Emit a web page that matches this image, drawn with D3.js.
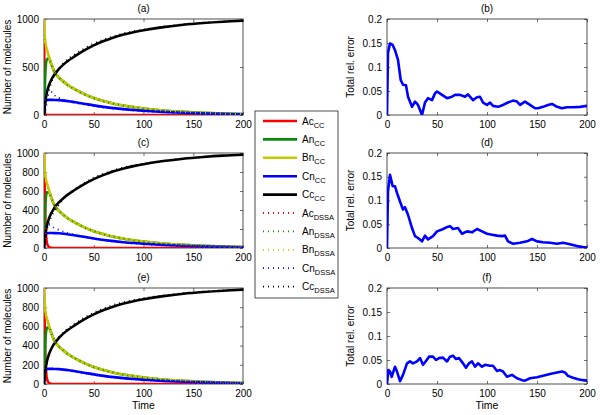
<!DOCTYPE html>
<html><head><meta charset="utf-8">
<script src="https://cdn.jsdelivr.net/npm/d3@7"></script>
<style>body{margin:0;background:#fff}svg{display:block}text{font-family:"Liberation Sans",Arial,sans-serif;fill:#000}</style>
</head><body><svg id="c" width="600" height="415"></svg>
<script>
// ---------- data ----------
const t = [0,0.5,1,2,3,5,7,10,15,20,25,30,40,50,60,70,80,90,100,120,140,160,180,200];
const acCC_a = [1000,150,20,0,0,0,0,0,0,0,0,0,0,0,0,0,0,0,0,0,0,0,0,0];
const acCC_ce = [1000,720,420,150,50,10,2,0,0,0,0,0,0,0,0,0,0,0,0,0,0,0,0,0];
const anCC = [0,120,330,540,580,590,540,460,390,345,305,275,220,177,145,118,98,82,68,47,33,23,16,11];
const bnCC = [1000,880,800,720,680,610,545,460,390,345,305,275,220,177,145,118,98,82,68,47,33,23,16,11];
const cnCC = [0,70,120,150,155,158,158,157,155,150,143,135,118,100,85,72,61,52,45,33,24,17,12,8];
const ccCC = [0,60,110,185,240,310,360,415,480,530,570,605,670,725,770,808,838,862,882,915,940,958,972,982];

const acDSSA_a = [1000,200,30,0,0,0,0,0,0,0,0,0,0,0,0,0,0,0,0,0,0,0,0,0];
const anDSSA_a = [0,110,320,530,575,585,535,455,385,340,300,270,218,175,143,117,97,81,67,46,32,22,15,10];
const bnDSSA_a = [1000,880,800,720,670,600,545,462,388,340,300,272,218,175,143,117,97,81,67,46,32,22,15,10];
const cnDSSA_a = [0,40,100,200,255,265,245,210,178,158,143,130,110,92,78,65,55,46,38,27,19,13,9,6];
const ccDSSA_a = [0,10,30,80,150,250,330,400,480,545,590,625,690,745,785,820,850,872,890,920,945,962,975,985];

const acDSSA_c = [1000,700,400,140,45,8,1,0,0,0,0,0,0,0,0,0,0,0,0,0,0,0,0,0];
const anDSSA_c = [0,120,330,535,578,585,535,458,388,342,302,272,218,175,143,117,97,81,67,46,32,22,15,10];
const bnDSSA_c = [1000,880,800,720,675,605,545,462,388,340,300,272,218,175,143,117,97,81,67,46,32,22,15,10];
const cnDSSA_c = [0,80,160,220,240,242,232,215,190,170,155,140,118,98,82,68,57,48,40,28,20,14,10,6];
const ccDSSA_c = [0,20,60,130,190,265,320,385,455,520,570,610,680,740,782,818,848,870,888,918,943,960,974,984];

const acDSSA_e = [1000,710,410,145,48,9,1,0,0,0,0,0,0,0,0,0,0,0,0,0,0,0,0,0];
const anDSSA_e = [0,125,335,540,582,588,538,460,390,344,304,274,219,176,144,117,97,81,67,46,32,22,15,10];
const bnDSSA_e = [1000,880,800,720,678,608,545,461,389,343,303,274,219,176,144,117,97,81,67,46,32,22,15,10];
const cnDSSA_e = [0,60,115,148,155,160,160,158,154,148,140,130,112,95,80,67,57,48,41,29,21,15,10,7];
const ccDSSA_e = [0,55,105,180,235,305,358,418,488,542,585,620,688,742,787,824,853,876,894,922,946,962,975,985];

const errT_b = [0,1,3,5.7,8,11,13.7,16,19,21,25,28,31,35,38,41,45,48,50,55,60,65,68,73,78,81,86,90,93,96,100,103,106,111,116,121,126,130,133,138,143,148,151,156,161,165,170,175,180,186,193,200];
const err_b = [0,0.13,0.149,0.146,0.135,0.115,0.073,0.063,0.062,0.038,0.017,0.028,0.021,0,0.026,0.035,0.031,0.045,0.049,0.042,0.035,0.038,0.042,0.042,0.038,0.043,0.031,0.037,0.038,0.026,0.021,0.026,0.019,0.017,0.021,0.026,0.030,0.028,0.021,0.028,0.021,0.014,0.014,0.017,0.021,0.023,0.017,0.014,0.016,0.016,0.017,0.019];

const errT_d = [0,1,3,5.7,8,10,13,16,18,21,25,28,31,35,38,41,46,50,55,60,63,66,71,75,80,85,90,95,100,105,110,115,118,121,126,133,140,145,150,156,163,170,176,183,190,196,200];
const err_d = [0,0.12,0.154,0.13,0.13,0.116,0.098,0.081,0.086,0.070,0.042,0.025,0.021,0.014,0.026,0.018,0.025,0.035,0.039,0.044,0.046,0.040,0.042,0.030,0.035,0.033,0.040,0.035,0.030,0.028,0.026,0.025,0.026,0.014,0.009,0.011,0.014,0.019,0.014,0.012,0.011,0.009,0.011,0.008,0.004,0.002,0.001];

const errT_f = [0,1.3,3,4.7,8,10,13,16,20,23,26,30,33,36,39,42,46,49,52,56,60,63,66,69,72,76,79,82,85,88,91,95,98,103,106,110,113,116,120,125,130,135,138,143,150,156,163,170,175,178,181,186,191,196,200];
const err_f = [0,0.029,0.026,0.015,0.036,0.026,0.006,0.019,0.043,0.047,0.043,0.047,0.054,0.040,0.048,0.057,0.057,0.050,0.054,0.055,0.047,0.057,0.059,0.052,0.054,0.043,0.034,0.043,0.047,0.036,0.043,0.036,0.040,0.038,0.038,0.027,0.029,0.026,0.015,0.019,0.012,0.008,0.007,0.012,0.014,0.017,0.021,0.024,0.026,0.024,0.017,0.013,0.010,0.008,0.007];

const xTicks = [0,50,100,150,200];
const yTicksA = [0,500,1000];
const yTicksCE = [0,200,400,600,800,1000];
const yTicksErr = [0,0.05,0.1,0.15,0.2];
const legendNames = [["Ac","CC"],["An","CC"],["Bn","CC"],["Cn","CC"],["Cc","CC"],["Ac","DSSA"],["An","DSSA"],["Bn","DSSA"],["Cn","DSSA"],["Cc","DSSA"]];
const colors = ["#ff0000","#0a8a0a","#c8c800","#0000ff","#000000"];

// ---------- drawing ----------
const svg = d3.select("#c");
let clipId = 0;
function panel(x0,x1,y0,y1,yMax,yTicks,yFmt,title,ylab,showTime){
  const x = d3.scaleLinear().domain([0,200]).range([x0,x1]);
  const y = d3.scaleLinear().domain([0,yMax]).range([y1,y0]);
  const g = svg.append("g");
  const id = "clip"+(clipId++);
  svg.append("clipPath").attr("id",id).append("rect").attr("x",x0).attr("y",y0-1).attr("width",x1-x0).attr("height",y1-y0+1);
  g.append("rect").attr("x",x0).attr("y",y0).attr("width",x1-x0).attr("height",y1-y0).attr("fill","none").attr("stroke","#222").attr("stroke-width",0.8);
  const ax = d3.axisBottom(x).tickValues(xTicks).tickSize(-3).tickPadding(6).tickFormat(d3.format("d"));
  const ay = d3.axisLeft(y).tickValues(yTicks).tickSize(-3).tickPadding(5).tickFormat(yFmt);
  const gx = g.append("g").attr("transform",`translate(0,${y1})`).call(ax);
  const gy = g.append("g").attr("transform",`translate(${x0},0)`).call(ay);
  const gx2 = g.append("g").attr("transform",`translate(0,${y0})`).call(d3.axisTop(x).tickValues(xTicks).tickSize(-3).tickFormat(""));
  const gy2 = g.append("g").attr("transform",`translate(${x1},0)`).call(d3.axisRight(y).tickValues(yTicks).tickSize(-3).tickFormat(""));
  [gx,gy,gx2,gy2].forEach(s=>{s.select(".domain").remove();s.selectAll("line").attr("stroke","#333").attr("stroke-width",0.7);s.selectAll("text").attr("font-size",10).attr("font-family","Liberation Sans, Arial, sans-serif").attr("fill","#000");});
  g.append("text").attr("x",(x0+x1)/2).attr("y",y0-7).attr("text-anchor","middle").attr("font-size",10).text(title);
  g.append("text").attr("transform",`translate(${x0-33},${(y0+y1)/2}) rotate(-90)`).attr("text-anchor","middle").attr("font-size",10).text(ylab);
  if(showTime) g.append("text").attr("x",(x0+x1)/2).attr("y",y1+25).attr("text-anchor","middle").attr("font-size",10.5).text("Time");
  const plot = svg.append("g").attr("clip-path",`url(#${id})`);
  return {x,y,plot};
}
function drawLine(p,xs,ys,color,dotted,curve){
  const line = d3.line().x((d,i)=>p.x(xs[i])).y(d=>p.y(d)).curve(curve||d3.curveMonotoneX);
  p.plot.append("path").datum(ys).attr("d",line).attr("fill","none").attr("stroke",color)
    .attr("stroke-width",dotted?1.8:2.6).attr("stroke-dasharray",dotted?"1,4":null).attr("stroke-linejoin","round");
}
const fmtN = d3.format("d");
const fmtE = d=> d===0?"0":String(d);

const leftSets = [
  {y0:19,y1:115,ticks:yTicksA,title:"(a)",cc:[acCC_a,anCC,bnCC,cnCC,ccCC],ds:[acDSSA_a,anDSSA_a,bnDSSA_a,cnDSSA_a,ccDSSA_a],time:false},
  {y0:153,y1:248,ticks:yTicksCE,title:"(c)",cc:[acCC_ce,anCC,bnCC,cnCC,ccCC],ds:[acDSSA_c,anDSSA_c,bnDSSA_c,cnDSSA_c,ccDSSA_c],time:false},
  {y0:288,y1:384,ticks:yTicksCE,title:"(e)",cc:[acCC_ce,anCC,bnCC,cnCC,ccCC],ds:[acDSSA_e,anDSSA_e,bnDSSA_e,cnDSSA_e,ccDSSA_e],time:true}
];
leftSets.forEach(s=>{
  const p = panel(44,243,s.y0,s.y1,1000,s.ticks,fmtN,s.title,"Number of molecules",s.time);
  s.cc.forEach((arr,i)=>drawLine(p,t,arr,colors[i],false));
  s.ds.forEach((arr,i)=>drawLine(p,t,arr,colors[i],true));
});
const rightSets = [
  {y0:19,y1:115,title:"(b)",tt:errT_b,e:err_b,time:false},
  {y0:153,y1:248,title:"(d)",tt:errT_d,e:err_d,time:false},
  {y0:288,y1:384,title:"(f)",tt:errT_f,e:err_f,time:true}
];
rightSets.forEach(s=>{
  const p = panel(387,587,s.y0,s.y1,0.2,yTicksErr,fmtE,s.title,"Total rel. error",s.time);
  drawLine(p,s.tt,s.e,"#0000ff",false,d3.curveLinear);
});

// legend
const lg = svg.append("g");
const lx=255, ly=111, lw=83, lh=187;
lg.append("rect").attr("x",lx).attr("y",ly).attr("width",lw).attr("height",lh).attr("fill","#fff").attr("stroke","#222").attr("stroke-width",0.8);
legendNames.forEach((n,i)=>{
  const yy = 121 + i*18.4;
  const dotted = i>=5;
  lg.append("line").attr("x1",263).attr("x2",297).attr("y1",yy).attr("y2",yy).attr("stroke",colors[i%5])
    .attr("stroke-width",dotted?1.8:2.6).attr("stroke-dasharray",dotted?"1,4":null);
  const tx = lg.append("text").attr("x",302).attr("y",yy+3.5).attr("font-size",10);
  tx.append("tspan").text(n[0]);
  tx.append("tspan").attr("dy",3).attr("font-size",7.5).text(n[1]);
});
</script></body></html>
